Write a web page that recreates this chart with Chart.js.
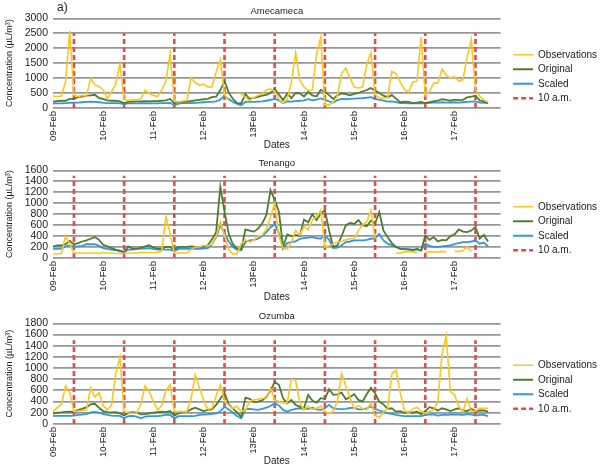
<!DOCTYPE html>
<html lang="en">
<head>
  <meta charset="UTF-8">
  <title>Concentration: Amecameca, Tenango, Ozumba</title>
  <style>
    body {
      margin: 0;
      padding: 0;
      background: #fff;
      overflow: hidden;
    }
    #wrap {
      position: relative;
      width: 600px;
      height: 472px;
      overflow: hidden;
      background: #fff;
    }
    #wrap canvas {
      position: absolute;
      left: 0;
    }
    .panel-tag {
      position: absolute;
      left: 57px;
      top: 0;
      font: 12px "Liberation Sans", Arial, sans-serif;
      line-height: 14px;
      color: #222;
    }
  </style>
</head>
<body>
  <div id="wrap">
    <canvas id="ame" width="607" height="153" style="top:0"></canvas>
    <canvas id="ten" width="607" height="153" style="top:152px"></canvas>
    <canvas id="ozu" width="607" height="164" style="top:305px"></canvas>
    <div class="panel-tag">a)</div>
  </div>

  <script src="https://cdn.jsdelivr.net/npm/chart.js@4"></script>
  <script>
    // hourly axis, one value every 2 hours (09-Feb 00:00 .. 17-Feb 22:00)
    const dayLabels = ['09-Feb', '10-Feb', '11-Feb', '12-Feb', '13Feb', '14-Feb', '15-Feb', '16-Feb', '17-Feb'];
    const hours = Array.from({ length: 108 }, (_, i) => i * 2);
    const tenAm = [10, 34, 58, 82, 106, 130, 154, 178, 202];
    const tenAmTop = [2500, 1500, 1500];

    // Amecameca
    const ameObs = [
      400, 380, 400, 880, 2580, 420, 380, 420, 400, 990, 780, 720,
      600, 320, 550, 800, 1470, 280, 250, 280, 260, 300, 600, 480,
      420, 380, 620, 900, 1830, 220, 200, 230, 250, 1000, 850, 760,
      800, 700, 700, 1200, 1620, 450, 250, null, 500, 470, 360, 240,
      350, 420, 470, 600, 640, 560, 300, 160, 300, 870, 1850, 930,
      700, 590, 600, 1790, 2370, 100, 100, 200, 400, 1160, 1330, 1000,
      700, 670, 700, 1450, 1850, 450, 330, 320, 350, 1220, 1150, 870,
      620, 530, 870, 900, 2370, 400, 550, 830, 830, 1300, 1100, 1000,
      1050, 900, 950, 1700, 2300, 600, 400, 260, 200, null, null, null
    ];
    const ameOrig = [
      210, 230, 240, 240, 300, 300, 360, 380, 410, 420, 440, 330,
      300, 250, 240, 240, 220, 160, 200, 210, 220, 220, 230, 220,
      230, 230, 240, 250, 300, 160, 200, 200, 210, 230, 250, 270,
      290, 300, 360, 380, 590, 900, 520, 300, 160, 150, 470, 300,
      340, 370, 410, 440, 500, 640, 450, 260, 480, 330, 500, 490,
      380, 540, 420, 380, 600, 540, 430, 300, 420, 490, 460, 420,
      470, 500, 550, 600, 670, 580, 500, 410, 360, 430, 310, 190,
      210, 200, 160, 180, 200, 160, 190, 220, 240, 290, 270, 240,
      280, 260, 270, 350, 380, 410, 250, 220, 170, null, null, null
    ];
    const ameScaled = [
      150, 150, 150, 160, 170, 180, 180, 190, 200, 210, 200, 190,
      170, 160, 160, 160, 150, 130, 150, 150, 150, 160, 150, 150,
      150, 150, 160, 160, 170, 90, 140, 160, 160, 160, 170, 180,
      190, 200, 200, 220, 280, 410, 300, 200, 130, 90, 200, 200,
      200, 210, 220, 240, 270, 300, 260, 160, 220, 210, 230, 240,
      250, 290, 250, 280, 320, 270, 220, 180, 260, 300, 290, 300,
      310, 320, 330, 340, 360, 300, 270, 240, 210, 220, 190, 160,
      160, 150, 150, 150, 160, 150, 170, 180, 180, 190, 180, 180,
      190, 180, 190, 200, 210, 220, 180, 170, 160, null, null, null
    ];

    // Tenango
    const tenObs = [
      70, 70, 80, 400, 250, 90, 90, 90, 90, 90, 90, 90,
      90, 90, 90, 80, 80, 80, 90, 90, 90, 100, 100, 100,
      100, 100, 120, 750, 450, 90, 90, 90, 90, 150, 200, 200,
      230, 220, 250, 400, 660, 420, 150, 70, 80, 260, 330, 290,
      320, 400, 420, 520, 750, 1000, 400, 180, 160, 290, 500, 420,
      570, 520, 690, 750, 870, 200, 220, 260, 290, 300, 330, 350,
      350, 500, 600, 660, 870, 350, null, null, null, null, 90, 90,
      110, 120, 110, 100, null, 100, 110, 110, 110, 120, 110, null,
      120, 120, 130, 200, 120, null, null, null, null, null, null, null
    ];
    const tenOrig = [
      210, 230, 230, 250, 310, 250, 270, 300, 320, 350, 380, 330,
      240, 210, 180, 150, 135, 105, 210, 170, 170, 185, 210, 230,
      190, 170, 170, 200, 200, 150, 200, 200, 200, 210, 200, 200,
      200, 230, 340, 470, 1300, 850, 440, 250, 170, 150, 520, 500,
      480, 530, 630, 780, 1240, 1060, 850, 200, 430, 400, 420, 400,
      700, 650, 800, 690, 810, 870, 500, 200, 230, 400, 600, 640,
      620, 690, 600, 580, 680, 630, 840, 500, 380, 270, 200, 165,
      160, 150, 140, 170, 135, 410, 330, 380, 300, 330, 320, 400,
      430, 520, 480, 470, 500, 570, 350, 420, 300, null, null, null
    ];
    const tenScaled = [
      165, 165, 170, 210, 230, 200, 210, 220, 250, 250, 250, 220,
      180, 165, 150, 140, 120, 105, 150, 150, 160, 170, 170, 180,
      160, 150, 150, 150, 150, 125, 165, 165, 165, 165, 165, 165,
      170, 180, 250, 380, 600, 450, 300, 200, 150, 140, 290, 320,
      330, 350, 400, 470, 560, 615, 450, 170, 270, 290, 300, 350,
      360, 370, 380, 360, 350, 420, 330, 180, 190, 230, 290, 300,
      320, 320, 320, 330, 350, 360, 440, 320, 260, 230, 200, 170,
      165, 160, 150, 150, 140, 260, 220, 200, 200, 210, 220, 230,
      250, 270, 290, 290, 300, 320, 260, 280, 210, null, null, null
    ];

    // Ozumba
    const ozuObs = [
      220, 290, 350, 680, 560, 220, 230, 240, 250, 650, 480, 560,
      330, 250, 340, 900, 1200, 220, 200, 190, 190, 350, 680, 580,
      400, 250, 330, 600, 700, 220, 220, 220, 220, 450, 880, 650,
      420, 260, 280, 500, 700, 420, 330, 280, 320, 220, 250, 400,
      430, 440, 460, 460, 640, 430, 400, 380, 380, 800, 780, 380,
      250, 320, 260, 280, 320, 220, 190, 220, 420, 900, 680, 470,
      270, 330, 270, 250, 380, 150, 110, 220, 270, 900, 960, 560,
      240, 190, 270, 300, 220, 190, 220, 250, 400, 1250, 1580, 580,
      520, 310, 220, 450, 220, 230, 280, 280, 280, null, null, null
    ];
    const ozuOrig = [
      190, 200, 205, 215, 220, 215, 250, 270, 300, 350, 360, 290,
      230, 210, 205, 210, 190, 150, 200, 210, 200, 170, 175, 190,
      200, 210, 220, 210, 230, 150, 190, 210, 220, 260, 290, 260,
      230, 250, 260, 340, 450, 560, 350, 280, 200, 130, 470, 450,
      390, 400, 420, 480, 600, 750, 700, 460, 370, 430, 340, 310,
      280, 520, 420, 380, 460, 450, 620, 520, 530, 560, 440, 480,
      530, 430, 400, 530, 645, 550, 400, 350, 270, 280, 220, 230,
      200, 210, 200, 220, 175, 230, 300, 280, 240, 280, 260, 230,
      260, 280, 240, 230, 270, 230, 240, 240, 220, null, null, null
    ];
    const ozuScaled = [
      145, 145, 145, 145, 145, 150, 160, 165, 175, 205, 215, 200,
      175, 160, 150, 145, 145, 100, 140, 145, 130, 100, 130, 140,
      140, 140, 150, 160, 160, 100, 140, 140, 140, 140, 145, 160,
      165, 170, 180, 190, 220, 310, 260, 200, 140, 100, 260, 270,
      260, 250, 270, 290, 320, 370, 330, 250, 220, 250, 270, 280,
      270, 270, 290, 260, 250, 280, 340, 280, 270, 265, 270, 285,
      290, 260, 260, 280, 310, 270, 240, 220, 190, 180, 160, 150,
      140, 140, 140, 140, 140, 160, 165, 170, 150, 160, 160, 165,
      170, 165, 160, 170, 170, 150, 160, 160, 140, null, null, null
    ];

    Chart.defaults.font.family = '"Liberation Sans", Arial, sans-serif';
    Chart.defaults.color = '#222';

    function series(vals) {
      return hours.map((h, i) => ({ x: h, y: vals[i] }));
    }

    // vertical dashed marker at 10 a.m. of every day, broken by null points
    function tenAmLines(top) {
      const pts = [];
      tenAm.forEach(h => {
        pts.push({ x: h, y: 0 }, { x: h, y: top }, { x: h, y: null });
      });
      return pts;
    }

    // legend swatches: use the dataset's line width, colour and dash
    function lineLabels(chart) {
      return Chart.defaults.plugins.legend.labels.generateLabels(chart).map(item => {
        const ds = chart.data.datasets[item.datasetIndex];
        return Object.assign(item, {
          strokeStyle: ds.borderColor,
          lineWidth: ds.borderWidth,
          lineDash: ds.borderDash || []
        });
      });
    }

    function makeChart(id, name, obs, orig, scaled, yMax, yStep, top, datesPad) {
      return new Chart(document.getElementById(id), {
        type: 'line',
        data: {
          datasets: [
            { label: 'Observations', data: series(obs), borderColor: '#ffc51c', borderWidth: 1.6 },
            { label: 'Original', data: series(orig), borderColor: '#4e7d2c', borderWidth: 1.8 },
            { label: 'Scaled', data: series(scaled), borderColor: '#2f97e3', borderWidth: 1.8 },
            { label: '10 a.m.', data: tenAmLines(top), borderColor: '#f04646', borderWidth: 2.6, borderDash: [5, 3] }
          ]
        },
        options: {
          responsive: false,
          animation: false,
          spanGaps: false,
          elements: {
            point: { radius: 0 },
            line: { tension: 0, fill: false }
          },
          plugins: {
            title: {
              display: true,
              text: name,
              fullSize: false,
              font: { size: 9.5, weight: 'normal' },
              padding: { top: 6, bottom: 1 }
            },
            legend: {
              position: 'right',
              labels: {
                usePointStyle: true,
                pointStyle: 'line',
                pointStyleWidth: 20,
                padding: 4.5,
                font: { size: 10 },
                generateLabels: lineLabels
              }
            },
            tooltip: { enabled: false }
          },
          scales: {
            x: {
              type: 'linear',
              min: 0,
              max: 214,
              afterBuildTicks: s => { s.ticks = dayLabels.map((_, i) => ({ value: i * 24 })); },
              ticks: {
                callback: v => dayLabels[v / 24],
                autoSkip: false,
                minRotation: 90,
                maxRotation: 90,
                padding: 3,
                font: { size: 9.5 }
              },
              grid: { display: false, drawTicks: false },
              border: { display: false },
              title: { display: true, text: 'Dates', font: { size: 10 }, padding: { top: datesPad, bottom: 2 } }
            },
            y: {
              min: 0,
              max: yMax,
              ticks: { stepSize: yStep, autoSkip: false, padding: 5, font: { size: 10.5 }, callback: v => String(v) },
              grid: { color: '#979797', lineWidth: 1.8, drawTicks: false },
              border: { display: false },
              title: { display: true, text: 'Concentration (µL/m³)', font: { size: 9 }, padding: { top: 4, bottom: 2 } },
              afterFit: s => { s.width = 53; }
            },
            gap: {
              position: 'right',
              ticks: { display: false },
              grid: { display: false, drawTicks: false },
              border: { display: false },
              afterFit: s => { s.width = 8; }
            }
          }
        }
      });
    }

    makeChart('ame', 'Amecameca', ameObs, ameOrig, ameScaled, 3000, 500, tenAmTop[0], -5);
    makeChart('ten', 'Tenango', tenObs, tenOrig, tenScaled, 1600, 200, tenAmTop[1], -3);
    makeChart('ozu', 'Ozumba', ozuObs, ozuOrig, ozuScaled, 1800, 200, tenAmTop[2], -5);
  </script>
</body>
</html>
